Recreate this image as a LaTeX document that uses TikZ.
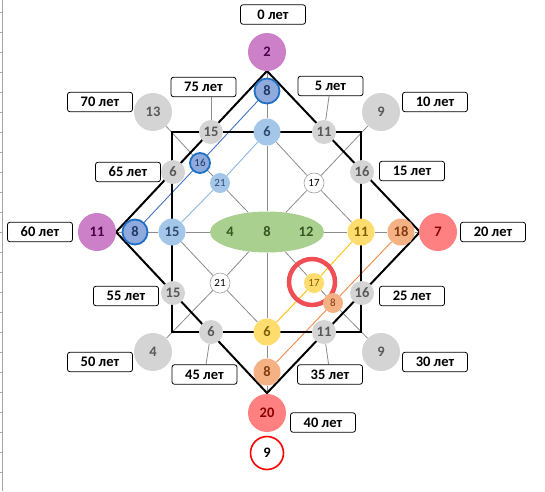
\documentclass[tikz,border=0pt]{standalone}
\usepackage{fontspec}
\setmainfont{Carlito}
\usetikzlibrary{backgrounds,shapes.geometric}
\pgfdeclarelayer{bottom}
\pgfsetlayers{bottom,background,main}
\definecolor{gfill}{HTML}{D4D4D4}
\definecolor{gtext}{HTML}{595959}
\definecolor{gline}{HTML}{8C8C8C}
\definecolor{pfill}{HTML}{CC80C8}
\definecolor{ptext}{HTML}{4A0048}
\definecolor{rfill}{HTML}{FF8080}
\definecolor{rtext}{HTML}{8B0000}
\definecolor{ofill}{HTML}{F4B183}
\definecolor{otext}{HTML}{843C0C}
\definecolor{oline}{HTML}{F08A4B}
\definecolor{yfill}{HTML}{FFDC6E}
\definecolor{ytext}{HTML}{7F6000}
\definecolor{yline}{HTML}{FFC000}
\definecolor{lbfill}{HTML}{A4C6E8}
\definecolor{lbtext}{HTML}{2E4A6E}
\definecolor{lbline}{HTML}{8DB8E2}
\definecolor{bfill}{HTML}{8FAADC}
\definecolor{bdraw}{HTML}{1F6FC5}
\definecolor{btext}{HTML}{1F3864}
\definecolor{bline}{HTML}{4472C4}
\definecolor{efill}{HTML}{A9D08E}
\definecolor{etext}{HTML}{375623}
\definecolor{ringred}{HTML}{F04E55}
\definecolor{wdraw}{HTML}{A0A0A0}
\definecolor{gridc}{HTML}{A6A6A6}
\newcommand\numfont{\fontsize{14.5}{15}\selectfont\bfseries}
\newcommand\smfont{\fontsize{11}{12}\selectfont}
\newcommand\lblfont{\fontsize{14.5}{15}\selectfont\bfseries}
\tikzset{
  base/.style={circle, inner sep=0pt, font=\numfont},
  big/.style={base, minimum size=38pt},
  med/.style={base, minimum size=27pt},
  smn/.style={base, minimum size=24pt},
  tiny/.style={base, minimum size=20pt, font=\smfont},
  gray node/.style={fill=gfill, text=gtext},
  purple node/.style={fill=pfill, text=ptext},
  red node/.style={fill=rfill, text=rtext},
  orange node/.style={fill=ofill, text=otext},
  yellow node/.style={fill=yfill, text=ytext},
  lblue node/.style={fill=lbfill, text=lbtext},
  blue node/.style={fill=bfill, draw=bdraw, line width=1.8pt, text=btext},
  white node/.style={fill=white, draw=wdraw, line width=0.6pt, text=black},
  lbl/.style={draw=black, fill=white, rounded corners=2.5pt, minimum width=65pt, minimum height=19.5pt, inner sep=0pt, line width=0.8pt, font=\lblfont},
  gl/.style={draw=gline, line width=0.8pt},
  thick black/.style={draw=black, line width=2pt},
}
\begin{document}
\begin{tikzpicture}[x=1pt,y=-1pt]
\useasboundingbox (0,0) rectangle (545,491);
\begin{pgfonlayer}{bottom}
\fill[white] (0,0) rectangle (545,491);
\end{pgfonlayer}
% spreadsheet edge
\draw[gridc, line width=0.8pt] (2,0) -- (2,491);
\foreach \yy in {12,32,...,472} \draw[gridc, line width=0.6pt] (0,\yy) -- (2,\yy);

% geometry coordinates
\coordinate (dT) at (267,71);
\coordinate (dR) at (420,232);
\coordinate (dB) at (267,393);
\coordinate (dL) at (116,232);
\coordinate (sTL) at (172,132);
\coordinate (sTR) at (361,132);
\coordinate (sBR) at (361,332);
\coordinate (sBL) at (172,332);

% nodes
\node[big, purple node] (n2) at (267,52) {2};
\node[base, minimum size=25pt, blue node] (n8t) at (267,91) {8};
\node[med, lblue node] (n6t) at (267,132) {6};
\node[smn, gray node] (g15a) at (211,132) {15};
\node[smn, gray node] (g11a) at (324,132) {11};
\node[big, gray node] (g13) at (153,112) {13};
\node[big, gray node] (g9a) at (381,112) {9};
\node[smn, gray node] (g6a) at (173,172) {6};
\node[smn, gray node] (g16a) at (362,172) {16};
\node[tiny, minimum size=20pt, blue node] (b16) at (200,163) {16};
\node[tiny, lblue node] (lb21) at (220,183) {21};
\node[tiny, white node] (w17) at (314,183) {17};
\node[big, purple node] (p11) at (97,232) {11};
\node[base, minimum size=25pt, blue node] (b8l) at (135,232) {8};
\node[med, lblue node] (lb15) at (172,232) {15};
\node[ellipse, fill=efill, minimum width=114pt, minimum height=41pt, inner sep=0pt] (ell) at (267,232) {};
\node[font=\numfont, text=etext] (e4) at (230,232) {4};
\node[font=\numfont, text=etext] (e8) at (267,232) {8};
\node[font=\numfont, text=etext] (e12) at (306,232) {12};
\node[med, yellow node] (y11) at (361,232) {11};
\node[med, orange node] (o18) at (401,232) {18};
\node[big, red node] (r7) at (438,232) {7};
\node[smn, gray node] (g15b) at (173,293) {15};
\node[smn, gray node] (g16b) at (362,293) {16};
\node[tiny, white node] (w21) at (220,283) {21};
\node[tiny, yellow node] (y17) at (314,283) {17};
\node[tiny, orange node] (o8s) at (333,303) {8};
\node[smn, gray node] (g6b) at (211,332) {6};
\node[med, yellow node] (y6) at (267,332) {6};
\node[smn, gray node] (g11b) at (324,332) {11};
\node[big, gray node] (g4) at (153,352) {4};
\node[big, gray node] (g9b) at (381,352) {9};
\node[med, orange node] (o8b) at (267,372) {8};
\node[big, red node] (r20) at (267,413) {20};
\node[base, minimum size=33pt, fill=white, draw=red, line width=1.6pt, text=black] (w9) at (267,453) {9};

% labels
\node[lbl] (L0) at (273,14.5) {0 лет};
\node[lbl] (L75) at (203.5,87) {75 лет};
\node[lbl] (L5) at (330.5,86) {5 лет};
\node[lbl] (L70) at (100,102) {70 лет};
\node[lbl] (L10) at (435,102) {10 лет};
\node[lbl] (L65) at (128,172) {65 лет};
\node[lbl] (L15) at (412,171) {15 лет};
\node[lbl] (L60) at (40,232) {60 лет};
\node[lbl] (L20) at (493,232) {20 лет};
\node[lbl] (L55) at (126,296) {55 лет};
\node[lbl] (L25) at (412,296) {25 лет};
\node[lbl] (L50) at (100,362) {50 лет};
\node[lbl] (L30) at (435,362) {30 лет};
\node[lbl] (L45) at (204.5,374.5) {45 лет};
\node[lbl] (L35) at (330,374.5) {35 лет};
\node[lbl] (L40) at (323,422.5) {40 лет};

\begin{pgfonlayer}{background}
% gray structure lines
\draw[gl] (n2) -- (n8t); \draw[gl] (n8t) -- (n6t); \draw[gl] (n6t) -- (ell);
\draw[gl] (ell) -- (y6); \draw[gl] (y6) -- (o8b); \draw[gl] (o8b) -- (r20);
\draw[gl] (p11) -- (b8l); \draw[gl] (b8l) -- (lb15); \draw[gl] (lb15) -- (ell);
\draw[gl] (ell) -- (y11); \draw[gl] (y11) -- (o18); \draw[gl] (o18) -- (r7);
\draw[gl] (g13) -- (b16); \draw[gl] (b16) -- (lb21); \draw[gl] (lb21) -- (ell);
\draw[gl] (g9a) -- (w17); \draw[gl] (w17) -- (ell);
\draw[gl] (ell) -- (w21); \draw[gl] (w21) -- (g4);
\draw[gl] (ell) -- (y17); \draw[gl] (y17) -- (o8s); \draw[gl] (o8s) -- (g9b);
\draw[gl] (n6t) -- (w17); \draw[gl] (w17) -- (y11);
\draw[gl] (lb15) -- (w21); \draw[gl] (w21) -- (y6);
% label connectors
\draw[gl] (L75.south -| g15a) -- (g15a);
\draw[gl] (L5) -- (g11a);
\draw[gl] (L45) -- (g6b);
\draw[gl] (L35) -- (g11b);
% coloured lines
\draw[lbline, line width=0.9pt] (n6t) -- (lb21); \draw[lbline, line width=0.9pt] (lb21) -- (lb15);
\draw[yline, line width=0.9pt] (y11) -- (y17); \draw[yline, line width=0.9pt] (y17) -- (y6);
\draw[bline, line width=0.9pt] (n8t) -- (b16); \draw[bline, line width=0.9pt] (b16) -- (b8l);
\draw[oline, line width=0.9pt] (o18) -- (o8s); \draw[oline, line width=0.9pt] (o8s) -- (o8b);
% black frames
\draw[thick black, line join=miter] (dT) -- (dR) -- (dB) -- (dL) -- cycle;
\draw[thick black, line join=miter] (sTL) -- (sTR) -- (sBR) -- (sBL) -- cycle;
% red ring
\node[circle, draw=ringred, line width=4.5pt, minimum size=46pt, inner sep=0pt] (ring) at (312,282) {};
\end{pgfonlayer}
\end{tikzpicture}
\end{document}
